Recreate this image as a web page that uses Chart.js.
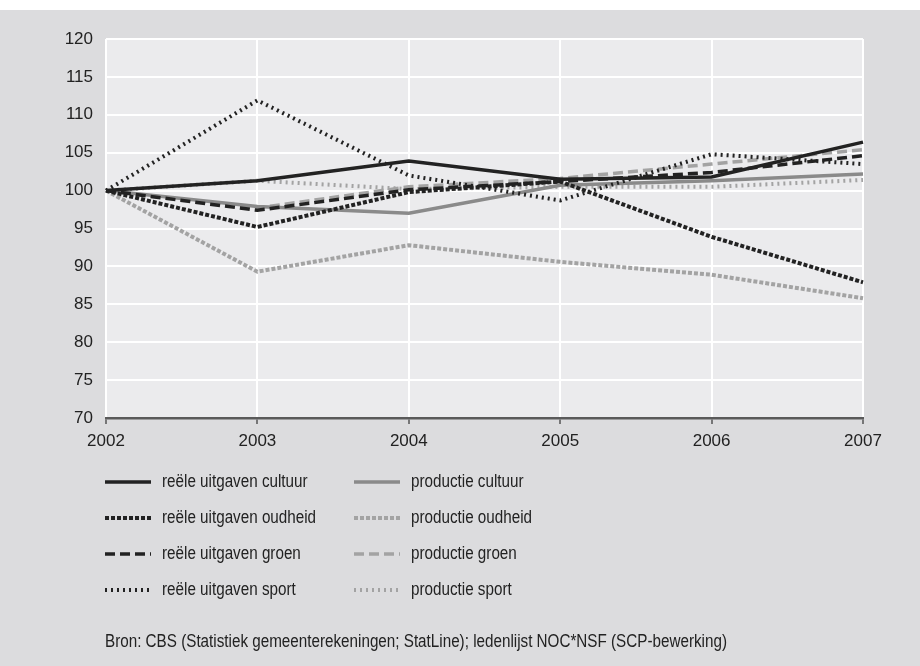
<!DOCTYPE html>
<html>
<head>
<meta charset="utf-8">
<script src="https://cdn.jsdelivr.net/npm/chart.js@4"></script>
<style>
  html, body { margin: 0; padding: 0; background: #fff; }
  #wrap { width: 920px; height: 666px; }
</style>
</head>
<body>
<div id="wrap"><canvas id="grafiek" width="920" height="666"></canvas></div>
<script>
const jaren = ['2002', '2003', '2004', '2005', '2006', '2007'];

const uitgavenCultuur  = [100, 101.3, 103.9, 101.5, 101.8, 106.4];
const productieCultuur = [100,  97.9,  97.0, 100.7, 101.3, 102.2];
const uitgavenOudheid  = [100,  95.2,  99.8, 101.2,  93.9,  87.9];
const productieOudheid = [100,  89.3,  92.8,  90.6,  88.9,  85.8];
const uitgavenGroen    = [100,  97.4, 100.1, 101.2, 102.4, 104.6];
const productieGroen   = [100,  97.7, 100.5, 101.6, 103.5, 105.4];
const uitgavenSport    = [100, 111.9, 102.0,  98.7, 104.8, 103.5];
const productieSport   = [100, 101.3, 100.2, 100.5, 100.5, 101.4];

const namen = [
  'reële uitgaven cultuur', 'productie cultuur',
  'reële uitgaven oudheid', 'productie oudheid',
  'reële uitgaven groen', 'productie groen',
  'reële uitgaven sport', 'productie sport'
];
const bron = 'Bron: CBS (Statistiek gemeenterekeningen; StatLine); ledenlijst NOC*NSF (SCP-bewerking)';

const zwart = '#222222';
const grijs = '#8a8a8a';
const lichtgrijs = '#a3a3a3';

function lijn(label, data, kleur, dash, breedte, volgorde) {
  return {
    label, data,
    borderColor: kleur,
    backgroundColor: kleur,
    borderDash: dash,
    borderWidth: breedte,
    borderCapStyle: 'butt',
    pointRadius: 0,
    tension: 0,
    fill: false,
    order: volgorde
  };
}

const datasets = [
  lijn(namen[0], uitgavenCultuur, zwart, [], 3.5, 1),
  lijn(namen[1], productieCultuur, grijs, [], 3.5, 2),
  lijn(namen[2], uitgavenOudheid, zwart, [4, 2], 4, 1),
  lijn(namen[3], productieOudheid, lichtgrijs, [4, 2], 4, 2),
  lijn(namen[4], uitgavenGroen, zwart, [10, 5], 3.5, 1),
  lijn(namen[5], productieGroen, lichtgrijs, [10, 5], 3.5, 2),
  lijn(namen[6], uitgavenSport, zwart, [2, 4], 4, 1),
  lijn(namen[7], productieSport, lichtgrijs, [2, 4], 4, 2)
];

// achtergrond: wit strookje boven, grijs paneel, lichter plotvlak
const achtergrond = {
  id: 'achtergrond',
  beforeDraw(chart) {
    const { ctx, chartArea: a, width, height } = chart;
    ctx.save();
    ctx.fillStyle = '#ffffff';
    ctx.fillRect(0, 0, width, height);
    ctx.fillStyle = '#dcdcde';
    ctx.fillRect(0, 10, width, height - 10);
    ctx.fillStyle = '#ebebed';
    ctx.fillRect(a.left, a.top, a.right - a.left, a.bottom - a.top);
    ctx.restore();
  }
};

// smalle letter: gewone sans, horizontaal wat samengedrukt
function smalleTekst(ctx, tekst, x, y) {
  ctx.save();
  ctx.translate(x, y);
  ctx.scale(0.87, 1);
  ctx.fillText(tekst, 0, 0);
  ctx.restore();
}

// legenda in twee kolommen plus bronregel
const legenda = {
  id: 'legenda',
  afterDraw(chart) {
    const ctx = chart.ctx;
    ctx.save();
    ctx.font = '17.5px "Liberation Sans", Arial, sans-serif';
    ctx.textBaseline = 'middle';
    chart.data.datasets.forEach((ds, i) => {
      const kol = i % 2, rij = Math.floor(i / 2);
      const x0 = kol === 0 ? 105 : 354;
      const y = 482 + rij * 36;
      ctx.beginPath();
      ctx.strokeStyle = ds.borderColor;
      ctx.lineWidth = ds.borderWidth;
      ctx.lineCap = 'butt';
      ctx.setLineDash(ds.borderDash);
      ctx.moveTo(x0, y);
      ctx.lineTo(x0 + 46, y);
      ctx.stroke();
      ctx.setLineDash([]);
      ctx.fillStyle = '#222';
      smalleTekst(ctx, ds.label, x0 + 57, y);
    });
    ctx.fillStyle = '#222';
    smalleTekst(ctx, bron, 105, 642);
    ctx.restore();
  }
};

new Chart(document.getElementById('grafiek').getContext('2d'), {
  type: 'line',
  data: { labels: jaren, datasets },
  options: {
    responsive: false,
    animation: false,
    layout: { padding: { top: 39, right: 57, bottom: 0, left: 0 } },
    plugins: {
      legend: { display: false },
      tooltip: { enabled: false },
      title: { display: false }
    },
    scales: {
      x: {
        offset: false,
        grid: { color: '#ffffff', lineWidth: 2, tickLength: 6, tickColor: '#555', tickWidth: 1.5 },
        border: { display: true, color: '#5a5a5a', width: 2.5 },
        ticks: { color: '#222', font: { size: 17, family: '"Liberation Sans", Arial, sans-serif' }, padding: 7, maxRotation: 0 },
        afterFit(s) { s.height = 248; }
      },
      y: {
        min: 70, max: 120,
        grid: { color: '#ffffff', lineWidth: 2, tickLength: 0 },
        border: { display: false },
        ticks: { stepSize: 5, color: '#222', font: { size: 17, family: '"Liberation Sans", Arial, sans-serif' }, padding: 13 },
        afterFit(s) { s.width = 106; }
      }
    }
  },
  plugins: [achtergrond, legenda]
});
</script>
</body>
</html>
